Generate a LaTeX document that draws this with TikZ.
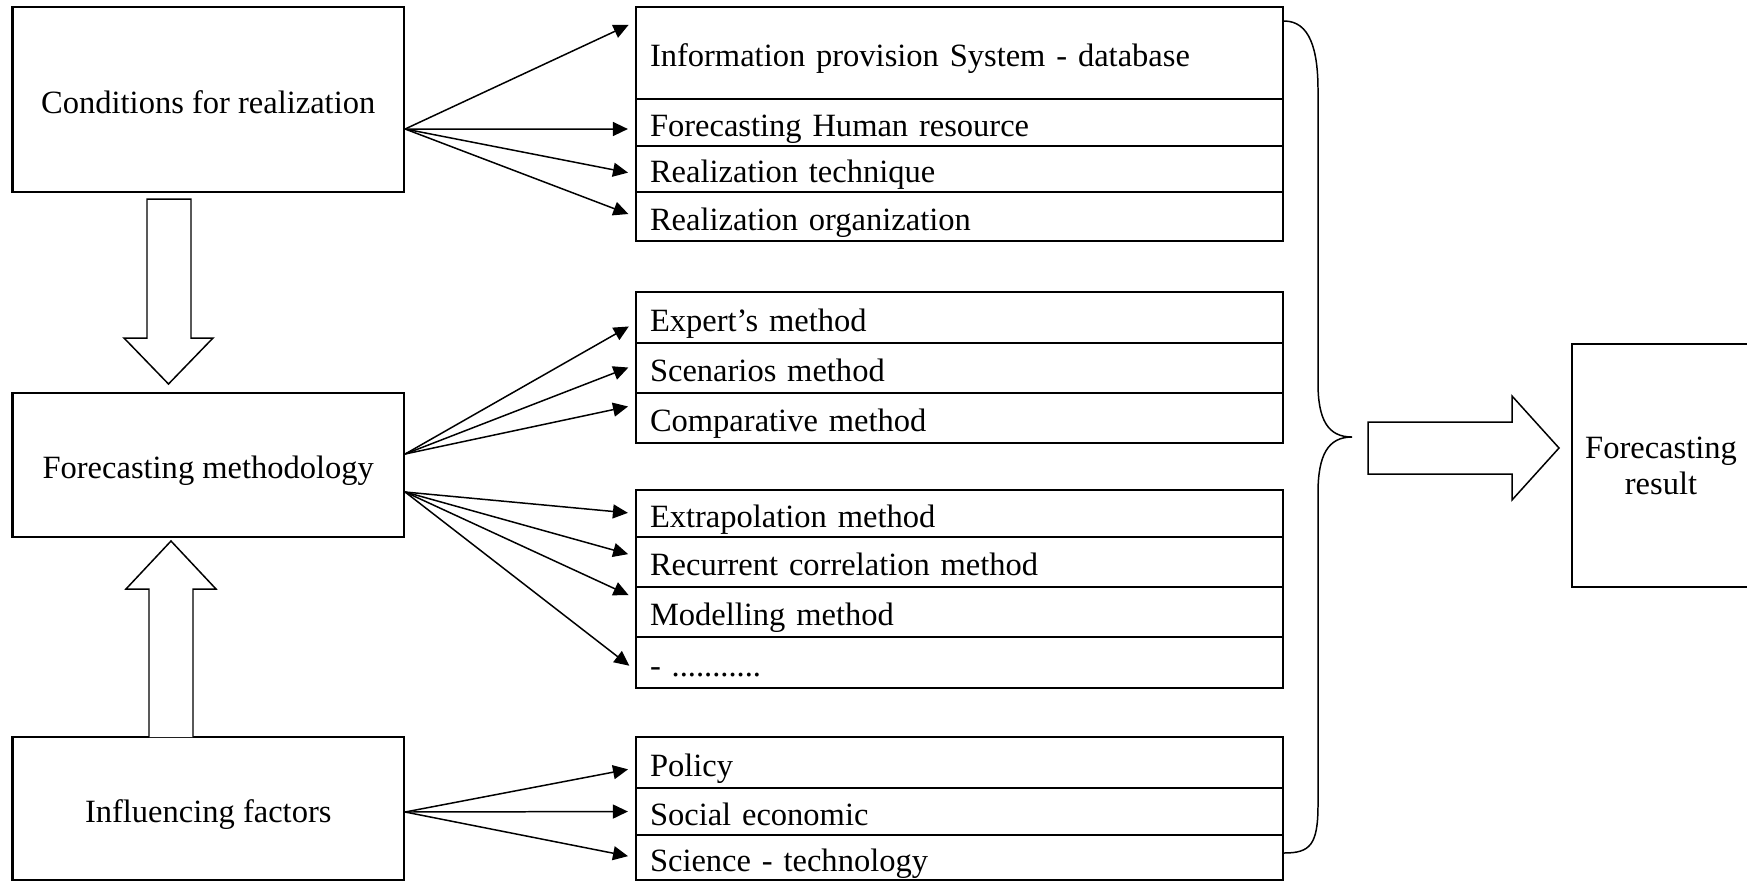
\documentclass[tikz,border=0pt]{standalone}
\usepackage{fontspec}
\setmainfont{Liberation Serif}
\usetikzlibrary{arrows.meta}
\tikzset{>=latex}
\newcommand{\diagfont}{\fontsize{18.5}{20.5}\selectfont}
\tikzset{
  bigbox/.style = {draw, line width=1.25pt, minimum width=78.3mm, inner sep=0pt,
    font=\diagfont, text height=17.6pt, text depth=1.7pt},
  cell/.style = {draw, line width=1.25pt, text width=123.8mm, inner xsep=2.8mm,
    inner ysep=0pt, align=left, font=\diagfont, text height=17.6pt, text depth=1.7pt},
  conn/.style = {-{Triangle[length=3mm, width=2.8mm]}, line width=0.85pt, shorten >=1.4mm},
  hollow/.style = {line width=0.85pt, fill=white, line join=miter}
}

\begin{document}
\begin{tikzpicture}[x=0.2mm, y=-0.2mm]
\useasboundingbox (0,0) rectangle (1747,881);

\node[bigbox, minimum height=37mm] (cond) at (208.25,99.5) {Conditions for realization};
\node[bigbox, minimum height=28.8mm] (method) at (208.25,465) {Forecasting methodology};
\node[bigbox, minimum height=28.6mm] (infl) at (208.25,808.5) {Influencing factors};

\node[cell, minimum height=18.4mm] (info) at (959.5,53) {Information provision System - database};
\node[cell, minimum height=9.4mm] (human) at (959.5,122.5) {Forecasting Human resource};
\node[cell, minimum height=9.2mm] (tech) at (959.5,169) {Realization technique};
\node[cell, minimum height=9.8mm] (org) at (959.5,216.5) {Realization organization};

\node[cell, minimum height=10.2mm] (expert) at (959.5,317.5) {Expert’s method};
\node[cell, minimum height=10mm] (scen) at (959.5,368) {Scenarios method};
\node[cell, minimum height=10mm] (comp) at (959.5,418) {Comparative method};

\node[cell, minimum height=9.4mm] (extra) at (959.5,513.5) {Extrapolation method};
\node[cell, minimum height=10mm] (recur) at (959.5,562) {Recurrent correlation method};
\node[cell, minimum height=10mm] (model) at (959.5,612) {Modelling method};
\node[cell, minimum height=10.2mm] (etc) at (959.5,662.5) {- ...........};

\node[cell, minimum height=10.2mm] (policy) at (959.5,762.5) {Policy};
\node[cell, minimum height=9.4mm] (social) at (959.5,811.5) {Social economic};
\node[cell, minimum height=9mm] (sci) at (959.5,857.5) {Science - technology};

\node[draw, line width=1.25pt, minimum width=35.6mm, minimum height=48.6mm, align=center,
  font=\diagfont] (result) at (1661,465.5) {Forecasting\\result};

\coordinate (cs) at ([yshift=-5.9mm]cond.east);
\coordinate (ms1) at ([yshift=2.2mm]method.east);
\coordinate (ms2) at ([yshift=-5.4mm]method.east);
\coordinate (is) at ([yshift=-0.7mm]infl.east);

\draw[conn] (cs) -- ([yshift=6.2mm]info.west);
\draw[conn] (cs) -- ([yshift=-1.3mm]human.west);
\draw[conn] (cs) -- ([yshift=-1mm]tech.west);
\draw[conn] (cs) -- (org.west);
\draw[conn] (ms1) -- ([yshift=-1.1mm]expert.west);
\draw[conn] (ms1) -- ([yshift=0.6mm]scen.west);
\draw[conn] (ms1) -- ([yshift=2.6mm]comp.west);
\draw[conn] (ms2) -- (extra.west);
\draw[conn] (ms2) -- ([yshift=1.2mm]recur.west);
\draw[conn] (ms2) -- ([yshift=2.8mm]model.west);
\draw[conn] (ms2) -- ([yshift=-1.5mm]etc.west);
\draw[conn] (is) -- ([yshift=-1.1mm]policy.west);
\draw[conn] (is) -- (social.west);
\draw[conn] (is) -- (sci.west);

\draw[hollow] (147,199) -- (191,199) -- (191,338) -- (213,338) -- (168.5,384)
  -- (124,338) -- (147,338) -- cycle;
\draw[hollow] (149,737) -- (149,589) -- (126,589) -- (171,541) -- (216,589)
  -- (193,589) -- (193,737);
\draw[hollow] (1368,422) -- (1512,422) -- (1512,396) -- (1559,448) -- (1512,500)
  -- (1512,474) -- (1368,474) -- cycle;

\draw[line width=0.85pt] (1284,21) .. controls (1310,21) and (1318,50) .. (1318,90)
  -- (1318,383) .. controls (1318,420) and (1328,437) .. (1352,437)
  .. controls (1328,437) and (1318,455) .. (1318,493)
  -- (1318,805) .. controls (1318,845) and (1310,853) .. (1284,853);
\end{tikzpicture}
\end{document}
